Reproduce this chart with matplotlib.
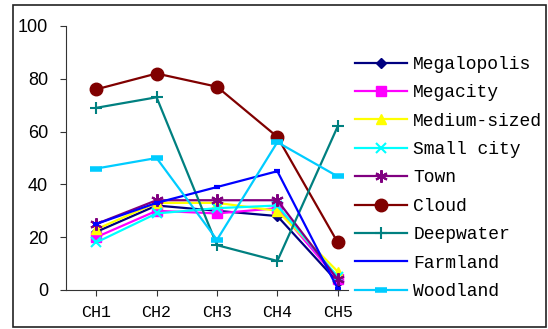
import matplotlib.pyplot as plt
from matplotlib.patches import Rectangle

#- data
cats = ['CH1', 'CH2', 'CH3', 'CH4', 'CH5']
megalopolis = [22, 32, 30, 28, 3]
megacity = [20, 30, 29, 31, 4]
medium = [23, 33, 33, 30, 7]
small_city = [18, 29, 31, 32, 5]
town = [25, 34, 34, 34, 4]
cloud = [76, 82, 77, 58, 18]
deepwater = [69, 73, 17, 11, 62]
farmland = [25, 33, 39, 45, 0.5]
woodland = [46, 50, 19, 56, 43]

series = [
    ('Megalopolis', megalopolis, '#000080', 'D', 5, 1),
    ('Megacity', megacity, '#FF00FF', 's', 7, 1),
    ('Medium-sized', medium, '#FFFF00', '^', 7, 1),
    ('Small city', small_city, '#00FFFF', 'x', 7, 1.5),
    ('Town', town, '#800080', (6, 2, 0), 9, 1.5),
    ('Cloud', cloud, '#800000', 'o', 9, 1),
    ('Deepwater', deepwater, '#008080', '+', 9, 1.5),
    ('Farmland', farmland, '#0000FF', '_', 5, 3),
    ('Woodland', woodland, '#00CCFF', '_', 9, 4),
]

f = plt.figure(figsize=(5.48, 3.29), dpi=100)
ax = f.add_axes([66/548, 1-290/329, (348-66)/548, (290-26)/329])
x = list(range(len(cats)))
for name, vals, col, mk, ms, mew in series:
    if mk in ('x', '+', '_') or isinstance(mk, tuple):
        ax.plot(x, vals, color=col, lw=1.6, marker=mk, markersize=ms,
                markeredgewidth=mew, label=name, clip_on=False)
    else:
        ax.plot(x, vals, color=col, lw=1.6, marker=mk, markersize=ms,
                markeredgecolor=col, markerfacecolor=col, label=name, clip_on=False)

ax.set_xlim(-0.5, 4.17)
ax.set_ylim(0, 100)
ax.set_yticks([0, 20, 40, 60, 80, 100])
ax.set_xticks(x)
ax.set_xticklabels(cats, family='Liberation Mono', fontsize=12)
for lab in ax.get_yticklabels():
    lab.set_family('Liberation Sans')
    lab.set_fontsize(13)
ax.spines['top'].set_visible(False)
ax.spines['right'].set_visible(False)
ax.spines['left'].set_color('#333333')
ax.spines['bottom'].set_color('#333333')
ax.tick_params(axis='both', direction='out', length=4, width=0.8, color='#333333')
ax.tick_params(axis='x', pad=7)
ax.tick_params(axis='y', pad=9)

leg = ax.legend(loc='upper left', bbox_to_anchor=(355/548, 1-56/329),
                bbox_transform=f.transFigure, frameon=False,
                prop={'family': 'Liberation Mono', 'size': 13},
                handlelength=2.9, handletextpad=0.33, labelspacing=0.63,
                borderaxespad=0, borderpad=0)
leg.legend_handles[7].set_marker('')

#- outer border
f.patches.append(Rectangle((13/548, 2/329), 533/548, 322/329, transform=f.transFigure,
                           fill=False, edgecolor='#222222', lw=1.2))

f.savefig('out.png', dpi=100)
